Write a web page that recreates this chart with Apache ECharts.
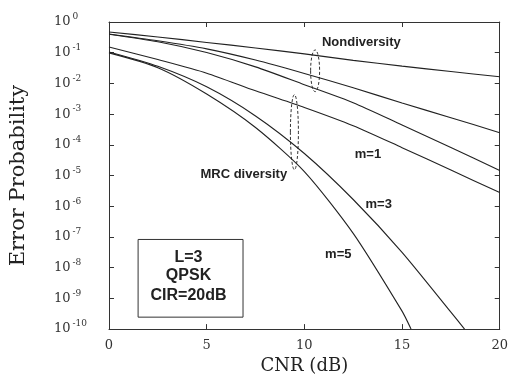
<!DOCTYPE html>
<html><head><meta charset="utf-8">
<script src="https://cdn.jsdelivr.net/npm/echarts@6/dist/echarts.min.js"></script>
<style>html,body{margin:0;padding:0;background:#fff}#c{width:511px;height:380px}</style>
</head><body><div id="c"></div>
<script>
// ---- data ----
const xTicks = [0, 5, 10, 15, 20];
const yExponents = [0, -1, -2, -3, -4, -5, -6, -7, -8, -9, -10];
const cnrGrid = [0, 2.5, 5, 7.5, 10, 12.5, 15, 17.5, 20];
const nondivM1 = [0.473, 0.326, 0.216, 0.143, 0.0914, 0.0562, 0.0365, 0.0243, 0.0164];
const nondivM3 = [0.408, 0.245, 0.133, 0.0575, 0.0210, 0.0072, 0.00231, 0.000764, 0.000249];
const nondivM5 = [0.400, 0.228, 0.1015, 0.0346, 0.00908, 0.00235, 0.000443, 0.0000824, 0.0000145];
const mrcM1 = [0.154, 0.0597, 0.0216, 0.00575, 0.00165, 0.00042, 0.000081, 0.0000151, 0.0000028];
const mrcM3X = [0, 2.5, 5, 7.5, 10, 12.5, 15, 17.5, 18.2];
const mrcM3 = [0.106, 0.0362, 0.00776, 0.000874, 0.0000522, 1.66e-6, 3.16e-8, 3.56e-10, 1e-10];
const mrcM5X = [0, 2.5, 5, 7.5, 10, 12.5, 15, 15.46];
const mrcM5 = [0.0986, 0.0326, 0.00453, 0.000367, 0.0000135, 1.31e-7, 3.84e-10, 1e-10];

// annotation anchors in data coordinates [CNR dB, probability]
const noteTexts = ['Nondiversity', 'MRC diversity', 'm=1', 'm=3', 'm=5'];
const notePos = [[10.9, 0.21], [4.68, 1.07e-5], [12.58, 4.8e-5], [13.13, 1.15e-6], [11.06, 2.74e-8]];
const boxLines = ['L=3', 'QPSK', 'CIR=20dB'];
const boxLinePos = [[4.07, 2.2e-8], [4.07, 5.6e-9], [4.07, 1.26e-9]];
const boxCorners = [[1.49, 8.3e-8], [6.86, 2.45e-10]];
const ellipses = [ {cx: 10.55, top: 0.123, bottom: 0.0054, rx: 4.5},
                   {cx: 9.49, top: 0.0043, bottom: 1.55e-5, rx: 4} ];

// probabilities are plotted on a decade (log10) scale
const lg = (p) => Math.log10(p);
const pairs = (xs, ys) => xs.map((x, i) => [x, lg(ys[i])]);
const serif = 'DejaVu Serif';
const ink = '#222';

const chart = echarts.init(document.getElementById('c'), null, {renderer: 'canvas'});
const lineSeries = (data) => ({
  type: 'line', data, showSymbol: false, smooth: 0.25, animation: false,
  lineStyle: {color: ink, width: 1.1}, clip: true
});
const yLabelFmt = (v) => {
  const e = Math.round(v);
  return '{b|10}{e|' + (e === 0 ? '0' : '-' + (-e)) + '}';
};
const yMin = yExponents[yExponents.length - 1], yMax = yExponents[0];
const frameLine = {show: true, onZero: false, lineStyle: {color: '#333', width: 1}};
const inTick = {show: true, inside: true, length: 5, lineStyle: {color: '#333'}};
chart.setOption({
  animation: false,
  backgroundColor: '#fff',
  grid: {left: 107, right: 8, top: 22, bottom: 50},
  xAxis: [{
    type: 'value', min: 0, max: 20, interval: 5, position: 'bottom',
    name: 'CNR (dB)', nameLocation: 'middle', nameGap: 24,
    nameTextStyle: {fontFamily: serif, fontSize: 18, color: ink},
    axisLine: frameLine, axisTick: inTick,
    axisLabel: {fontFamily: serif, fontSize: 13, color: '#333', margin: 10,
                formatter: (v) => xTicks.includes(v) ? String(v) : ''},
    splitLine: {show: false}
  }, {
    type: 'value', min: 0, max: 20, interval: 5, position: 'top',
    axisLine: frameLine, axisTick: inTick,
    axisLabel: {show: false}, splitLine: {show: false}
  }],
  yAxis: [{
    type: 'value', min: yMin, max: yMax, interval: 1, position: 'left',
    name: 'Error Probability', nameLocation: 'middle', nameGap: 80,
    nameTextStyle: {fontFamily: serif, fontSize: 21, color: ink},
    axisLine: frameLine, axisTick: inTick,
    axisLabel: {margin: 55, align: 'left', formatter: yLabelFmt,
      rich: {b: {fontFamily: serif, fontSize: 13, color: '#333'},
             e: {fontFamily: serif, fontSize: 9, color: '#333', padding: [0, 0, 10, 2]}}},
    splitLine: {show: false}
  }, {
    type: 'value', min: yMin, max: yMax, interval: 1, position: 'right',
    axisLine: frameLine, axisTick: inTick,
    axisLabel: {show: false}, splitLine: {show: false}
  }],
  series: [
    lineSeries(pairs(cnrGrid, nondivM1)),
    lineSeries(pairs(cnrGrid, nondivM3)),
    lineSeries(pairs(cnrGrid, nondivM5)),
    lineSeries(pairs(cnrGrid, mrcM1)),
    lineSeries(pairs(mrcM3X, mrcM3)),
    lineSeries(pairs(mrcM5X, mrcM5))
  ]
});

const px = (p) => chart.convertToPixel({xAxisIndex: 0, yAxisIndex: 0}, [p[0], lg(p[1])]);
const g = [];
noteTexts.forEach((t, i) => {
  const p = px(notePos[i]);
  g.push({type: 'text', x: p[0], y: p[1], style: {text: t, fill: ink,
    font: 'bold 13px "Liberation Sans", Arial, sans-serif', textVerticalAlign: 'middle', textAlign: 'left'}});
});
const c0 = px(boxCorners[0]), c1 = px(boxCorners[1]);
g.push({type: 'rect', shape: {x: c0[0], y: c0[1], width: c1[0] - c0[0], height: c1[1] - c0[1]},
  style: {fill: '#fff', stroke: '#333', lineWidth: 1}});
boxLines.forEach((t, i) => {
  const p = px(boxLinePos[i]);
  g.push({type: 'text', x: p[0], y: p[1], style: {text: t, fill: ink,
    font: 'bold 16px "Liberation Sans", Arial, sans-serif', textVerticalAlign: 'middle', textAlign: 'center'}});
});
ellipses.forEach((e) => {
  const a = px([e.cx, e.top]), b = px([e.cx, e.bottom]);
  g.push({type: 'ellipse', shape: {cx: a[0], cy: (a[1] + b[1]) / 2, rx: e.rx, ry: (b[1] - a[1]) / 2},
    style: {fill: 'none', stroke: '#333', lineWidth: 1, lineDash: [3, 2]}});
});
chart.setOption({graphic: g});
</script></body></html>
